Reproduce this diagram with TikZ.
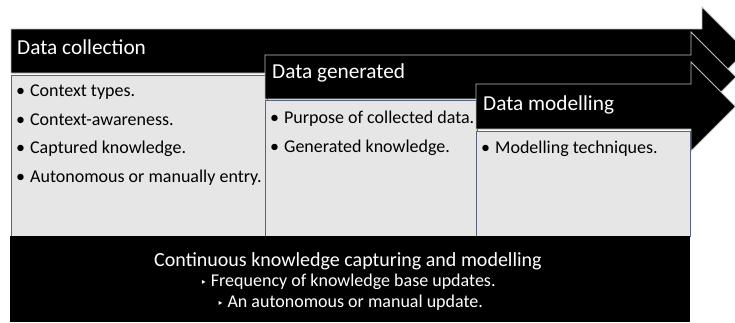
\documentclass[tikz,border=0pt]{standalone}
\usepackage{fontspec}
\setmainfont{Carlito}
\newfontfamily\symfnt{DejaVu Sans}
\definecolor{boxfill}{HTML}{E6E6E6}
\definecolor{boxline}{HTML}{56657E}
\definecolor{arrline}{HTML}{BFBFBF}
\begin{document}
\begin{tikzpicture}[x=1pt,y=-1pt,
  arrowshape/.style={fill=black,draw=arrline,line width=0.8pt},
  contentbox/.style={fill=boxfill,draw=boxline,line width=0.9pt},
  headtxt/.style={anchor=base west,text=white,font=\fontsize{21.3}{25}\selectfont,inner sep=0pt},
  itemtxt/.style={anchor=base west,text=black,font=\fontsize{18}{21}\selectfont,inner sep=0pt},
  bartitle/.style={anchor=base,text=white,font=\fontsize{20}{24}\selectfont,inner sep=0pt},
  barsub/.style={anchor=base,text=white,font=\fontsize{18}{21}\selectfont,inner sep=0pt}]
\clip (0,0) rectangle (735,322);
% stage 1
\draw[arrowshape] (11,29) -- (702,29) -- (702,7) -- (746,51) -- (702,95) -- (702,73) -- (11,73) -- cycle;
\draw[contentbox] (11,75) rectangle (267,236);
% stage 2
\draw[arrowshape] (265,55) -- (691,55) -- (691,32) -- (736,77) -- (691,122) -- (691,99) -- (265,99) -- cycle;
\draw[contentbox] (265,100) rectangle (477,236);
% stage 3
\draw[arrowshape] (476,84) -- (691,84) -- (691,62) -- (735.5,106.5) -- (691,151) -- (691,129) -- (476,129) -- cycle;
\draw[contentbox] (476,131) rectangle (690,236);
% bottom bar
\fill[black] (10,236) rectangle (690,322);

\node[headtxt] (h1) at (17,54) {Data collection};
\node[headtxt] (h2) at (272,78) {Data generated};
\node[headtxt] (h3) at (483,110) {Data modelling};

\node[itemtxt] (a1) at (16,96.5) {•\hspace{5pt}Context types.};
\node[itemtxt] (a2) at (16,125) {•\hspace{5pt}Context-awareness.};
\node[itemtxt] (a3) at (16,153.5) {•\hspace{5pt}Captured knowledge.};
\node[itemtxt] (a4) at (16,182) {•\hspace{5pt}Autonomous or manually entry.};

\node[itemtxt] (b1) at (270,123.5) {•\hspace{5pt}Purpose of collected data.};
\node[itemtxt] (b2) at (270,152) {•\hspace{5pt}Generated knowledge.};

\node[itemtxt] (c1) at (481,153) {•\hspace{5pt}Modelling techniques.};

\node[bartitle] (t0) at (348,266) {Continuous knowledge capturing and modelling};
\node[barsub] (t1) at (348,286) {{\symfnt\fontsize{11}{12}\selectfont ‣}\hspace{4pt}Frequency of knowledge base updates.};
\node[barsub] (t2) at (350,307) {{\symfnt\fontsize{11}{12}\selectfont ‣}\hspace{4pt}An autonomous or manual update.};
\end{tikzpicture}
\end{document}
